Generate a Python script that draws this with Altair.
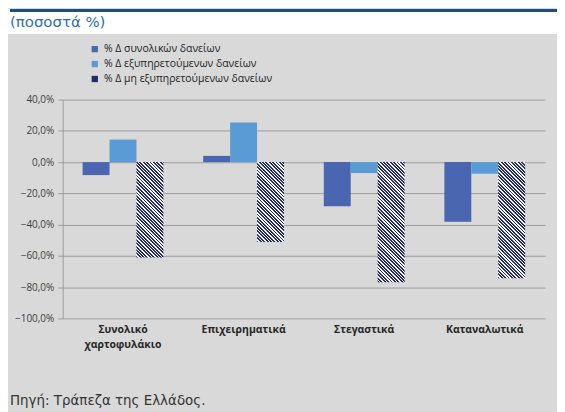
import altair as alt
import pandas as pd

categories = ["Συνολικό|χαρτοφυλάκιο", "Επιχειρηματικά", "Στεγαστικά", "Καταναλωτικά"]
series = ["% Δ συνολικών δανείων", "% Δ εξυπηρετούμενων δανείων", "% Δ μη εξυπηρετούμενων δανείων"]
total_loans = [-8.3, 4.0, -28.2, -38.2]
performing = [14.4, 25.3, -7.0, -7.4]
non_performing = [-61.1, -51.1, -76.8, -74.3]
y_ticks = [-100, -80, -60, -40, -20, 0, 20, 40]

title_text = "(ποσοστά %)"
source_text = "Πηγή: Τράπεζα της Ελλάδος."

colors = ["#4a66b0", "#5b9bd5", "#232a6b"]

W, H = 485, 220
PAD_L, PAD_T, PAD_R, PAD_B = 55, 91, 12, 93
Y_MIN, Y_MAX = -100, 40

rows = []
for c, a, b in zip(categories, total_loans, performing):
    rows.append({"cat": c, "series": series[0], "value": a})
    rows.append({"cat": c, "series": series[1], "value": b})
df_solid = pd.DataFrame(rows)

x_enc = alt.X("cat:N", sort=categories,
              scale=alt.Scale(paddingInner=0.33, paddingOuter=0.165),
              axis=alt.Axis(title=None, labelAngle=0, domain=False, ticks=False,
                            labelExpr="split(datum.label, '|')",
                            labelFont="Open Sans", labelFontSize=10.5, labelFontWeight="bold",
                            labelColor="#262626", labelPadding=6, labelBaseline="top",
                            labelLineHeight=15))
xo_enc = alt.XOffset("series:N", sort=series,
                     scale=alt.Scale(domain=series, paddingInner=0, paddingOuter=0))
y_enc = alt.Y("value:Q",
              scale=alt.Scale(domain=[Y_MIN, Y_MAX], nice=False, zero=True),
              axis=alt.Axis(title=None, values=y_ticks,
                            labelExpr="replace(format(datum.value, '.1f'), '.', ',') + '%'",
                            labelFont="Open Sans", labelFontSize=10, labelColor="#404040",
                            grid=True, gridColor="#9c9c9c", gridWidth=1,
                            domain=True, domainColor="#9c9c9c",
                            ticks=True, tickSize=5, tickColor="#9c9c9c", labelPadding=4))

solid = alt.Chart(df_solid).mark_bar().encode(
    x=x_enc, xOffset=xo_enc, y=y_enc,
    color=alt.Color("series:N", sort=series,
                    scale=alt.Scale(domain=series, range=colors),
                    legend=alt.Legend(title=None, orient="none", legendX=27, legendY=-56,
                                      symbolType="square", symbolSize=40,
                                      symbolStrokeWidth=0,
                                      labelFont="Open Sans", labelFontSize=10.5,
                                      labelColor="#222222", rowPadding=4, padding=0,
                                      labelOffset=4, labelLimit=400))
)

bar_w = W / (4 - 0.33 + 2 * 0.165) * (1 - 0.33) / 3


def hatch(v):
    h = abs(v) * H / (Y_MAX - Y_MIN)
    r = h / bar_w
    T = 3.4 / (bar_w * (1 + r * r))
    tmax = (1 + r) / (1 + r * r)
    stops = []
    k = 0
    while k * T < tmax + T:
        a = k * T
        stops += [{"offset": min(a, 1.0), "color": colors[2]},
                  {"offset": min(a + T * 0.55, 1.0), "color": colors[2]},
                  {"offset": min(a + T * 0.55, 1.0), "color": "#ffffff"},
                  {"offset": min(a + T, 1.0), "color": "#ffffff"}]
        k += 1
        if a + T >= 1.0:
            break
    return {"gradient": "linear", "x1": 0, "y1": 1, "x2": 1, "y2": 1 - r, "stops": stops}


hatched_layers = []
for c, v in zip(categories, non_performing):
    d = pd.DataFrame({"cat": [c], "series": [series[2]], "value": [v]})
    hatched_layers.append(
        alt.Chart(d).mark_bar(fill=hatch(v)).encode(x=x_enc, xOffset=xo_enc, y=y_enc)
    )

one = pd.DataFrame({"a": [0]})
top_white = alt.Chart(one).mark_rect(color="#ffffff").encode(
    x=alt.value(-PAD_L), x2=alt.value(W + PAD_R), y=alt.value(-PAD_T), y2=alt.value(-66))
band = alt.Chart(one).mark_rect(color="#1f4e79").encode(
    x=alt.value(-PAD_L + 2), x2=alt.value(W + PAD_R), y=alt.value(-PAD_T), y2=alt.value(-PAD_T + 3))
title = alt.Chart(pd.DataFrame({"t": [title_text]})).mark_text(
    align="left", baseline="alphabetic", font="DejaVu Sans", fontSize=15, color="#2e6fb0"
).encode(text="t:N", x=alt.value(-PAD_L + 2), y=alt.value(-73))
source = alt.Chart(pd.DataFrame({"t": [source_text]})).mark_text(
    align="left", baseline="alphabetic", font="DejaVu Sans", fontSize=13.5, color="#333333"
).encode(text="t:N", x=alt.value(-PAD_L + 2), y=alt.value(H + 87))

chart = alt.layer(top_white, band, title, source, solid, *hatched_layers).properties(
    width=W, height=H,
    padding={"left": PAD_L, "top": PAD_T, "right": PAD_R, "bottom": PAD_B},
    autosize=alt.AutoSizeParams(type="none"),
    background="#d9d9d9",
).configure_view(stroke=None).configure_axis(labelFlush=False)

chart.save("out.html", embed_options={"renderer": "svg", "actions": False})
